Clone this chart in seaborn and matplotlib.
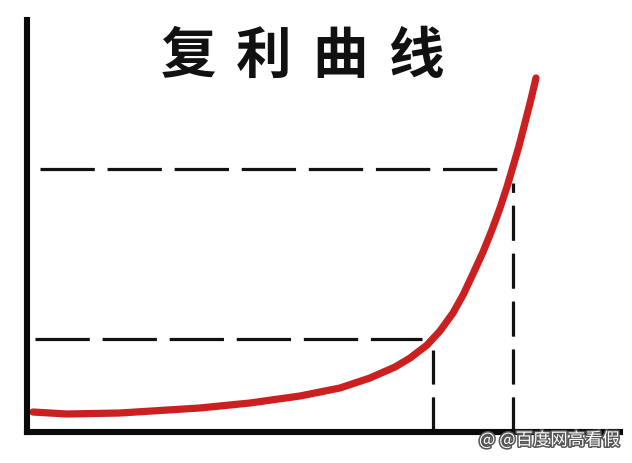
import matplotlib
matplotlib.use('Agg')
import matplotlib.pyplot as plt
import matplotlib.patheffects as pe
import seaborn as sns

sns.set_theme(style="white")
plt.rcParams['font.family'] = ['Noto Sans CJK SC', 'DejaVu Sans']

# values (time in years, value in arbitrary units)
years = [0.30, 2.02, 4.70, 8.75, 11.28, 13.81, 15.83, 17.35, 18.62, 19.38,
         20.24, 20.89, 21.55, 22.06, 22.56, 23.07, 23.52, 23.93, 24.28,
         24.58, 24.89, 25.19, 25.50, 25.75]
value = [4.85, 4.37, 4.61, 5.83, 7.04, 8.74, 10.68, 13.11, 15.78, 17.96,
         21.12, 24.51, 28.88, 33.25, 38.35, 43.69, 49.03, 54.37, 59.47,
         64.32, 69.42, 75.00, 80.83, 85.92]

# guide lines: level reached, and the year it is reached
guide_levels = [22.6, 63.8]
guide_years = [20.54, 24.58]
guide_start = [0.40, 0.66]
guide_end = [19.98, 24.03]
guide_top = [19.9, 60.4]

title_chars = ['复', '利', '曲', '线']
watermark = '@ @百度网高看假'

fig = plt.figure(figsize=(6.32, 4.63), dpi=100)
ax = fig.add_axes([27 / 632, 31 / 463, (620 - 27) / 632, (432 - 20) / 463])

sns.lineplot(x=years, y=value, color='#cc1f1f', linewidth=5.2, ax=ax,
             solid_capstyle='round', solid_joinstyle='round')

for lvl, yr, x0, x1, top in zip(guide_levels, guide_years, guide_start,
                                guide_end, guide_top):
    ax.hlines(lvl, x0, x1, colors='#111111', linewidth=2.3,
              linestyles=(0, (17, 4)))
    ax.vlines(yr, 0, top, colors='#111111', linewidth=2.3,
              linestyles=(0, (11, 4)))

ax.set_xlim(0, 30)
ax.set_ylim(0, 100)
ax.set_xticks([])
ax.set_yticks([])
for side in ['top', 'right']:
    ax.spines[side].set_visible(False)
for side in ['left', 'bottom']:
    ax.spines[side].set_color('#0a0a0a')
    ax.spines[side].set_linewidth(4.4)
ax.patch.set_alpha(0)

# title letters, spread out like the hand lettering
for i, ch in enumerate(title_chars):
    fig.text((188 + i * 76) / 632, 1 - 57 / 463, ch, ha='center', va='center',
             fontsize=40, fontweight='bold', color='#111111')

fig.text(620 / 632, 1 - 440 / 463, watermark, ha='right', va='center',
         fontsize=12.5, color='white',
         path_effects=[pe.withStroke(linewidth=2.2, foreground='#555555')])

fig.savefig('out.png', dpi=100)
